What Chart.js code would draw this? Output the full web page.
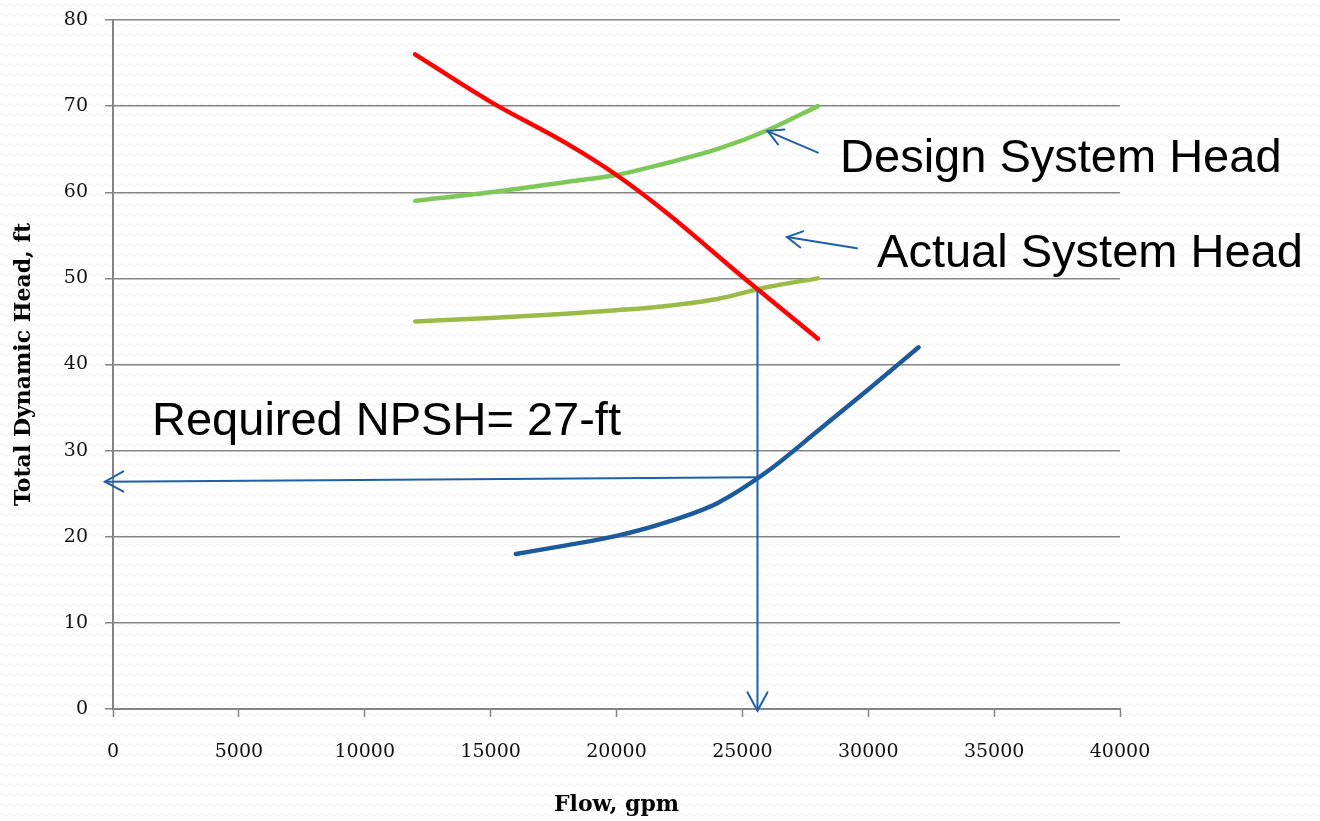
<!DOCTYPE html>
<html>
<head>
<meta charset="utf-8">
<script src="https://cdn.jsdelivr.net/npm/chart.js@4/dist/chart.umd.min.js"></script>
<style>
  html, body {
    margin: 0;
    padding: 0;
    background-color: #ffffff;
    background-image: url("data:image/svg+xml,%3Csvg xmlns='http://www.w3.org/2000/svg' width='8' height='10'%3E%3Cpath d='M0 5 Q2 2.5 4 5 T8 5' fill='none' stroke='%23f1f1f1' stroke-width='1'/%3E%3C/svg%3E");
  }
  canvas { display: block; }
</style>
</head>
<body>
<canvas id="pumpChart" width="1320" height="821"></canvas>
<script>
// pump curve vs. system curves

const pumpFlow = [12000, 15000, 18000, 20000, 22000, 25000, 28000];
const pumpHead = [76, 70.5, 65.7, 62, 57.6, 50.2, 43];

const designFlow = [12000, 15000, 18000, 20000, 22000, 24000, 26000, 28000];
const designHead = [59, 60, 61.2, 62, 63.4, 65, 67.2, 70];

const actualFlow = [12000, 15000, 18000, 20000, 22000, 24000, 26000, 28000];
const actualHead = [45, 45.4, 45.9, 46.3, 46.8, 47.6, 49.0, 50];

const npshFlow = [16000, 18000, 20000, 22000, 24000, 26000, 28000, 30000, 32000];
const npshHead = [18, 19, 20.1, 21.7, 23.9, 27.6, 32.3, 37.1, 42];

const xTicks = [0, 5000, 10000, 15000, 20000, 25000, 30000, 35000, 40000];
const yTicks = [0, 10, 20, 30, 40, 50, 60, 70, 80];

const opFlow = 25600;
const opHead = 48.5;
const npshReq = 27;

const toPoints = (xs, ys) => xs.map((x, i) => ({ x, y: ys[i] }));

const ARROW_BLUE = '#1f5fa6';

function drawArrow(ctx, x1, y1, x2, y2, head) {
    ctx.beginPath();
    ctx.moveTo(x1, y1);
    ctx.lineTo(x2, y2);
    ctx.stroke();
    const a = Math.atan2(y2 - y1, x2 - x1);
    ctx.beginPath();
    ctx.moveTo(x2 - head * Math.cos(a - 0.5), y2 - head * Math.sin(a - 0.5));
    ctx.lineTo(x2, y2);
    ctx.lineTo(x2 - head * Math.cos(a + 0.5), y2 - head * Math.sin(a + 0.5));
    ctx.stroke();
}

// arrows and call-out text, placed in data units
const annotations = {
    id: 'annotations',
    afterDraw(chart) {
        const { ctx, scales: { x, y } } = chart;
        const px = v => x.getPixelForValue(v);
        const py = v => y.getPixelForValue(v);

        ctx.save();
        ctx.strokeStyle = ARROW_BLUE;
        ctx.lineWidth = 2;
        ctx.lineCap = 'round';

        // down from the operating point to the flow axis
        drawArrow(ctx, px(opFlow), py(opHead), px(opFlow), py(-0.2), 21);
        // across from the NPSH curve to the head axis
        drawArrow(ctx, px(opFlow), py(26.9), px(-320), py(26.4), 21);
        // call-outs pointing at the system curves
        drawArrow(ctx, px(28000), py(64.6), px(26000), py(67.1), 17);
        drawArrow(ctx, px(29550), py(53.5), px(26770), py(54.8), 17);

        ctx.fillStyle = '#000000';
        ctx.font = '47px "Liberation Sans", Arial, sans-serif';
        ctx.textAlign = 'left';
        ctx.textBaseline = 'alphabetic';
        ctx.fillText('Design System Head', px(28880), py(62.35));
        ctx.fillText('Actual System Head', px(30350), py(51.3));
        ctx.fillText('Required NPSH= ' + npshReq + '-ft', px(1550), py(31.8));
        ctx.restore();
    }
};

const lineStyle = {
    pointRadius: 0,
    borderWidth: 4.5,
    borderCapStyle: 'round',
    borderJoinStyle: 'round',
    cubicInterpolationMode: 'monotone',
    fill: false
};

const tickFont = { family: '"DejaVu Serif", serif', size: 19 };
const titleFont = { family: '"DejaVu Serif", serif', size: 22, weight: 'bold' };

new Chart(document.getElementById('pumpChart'), {
    type: 'line',
    data: {
        datasets: [
            { label: 'Pump Head', data: toPoints(pumpFlow, pumpHead), borderColor: '#ff0000', ...lineStyle },
            { label: 'Design System Head', data: toPoints(designFlow, designHead), borderColor: '#7ec85a', ...lineStyle },
            { label: 'Actual System Head', data: toPoints(actualFlow, actualHead), borderColor: '#9bbb49', ...lineStyle },
            { label: 'Required NPSH', data: toPoints(npshFlow, npshHead), borderColor: '#1c5a9c', ...lineStyle }
        ]
    },
    options: {
        responsive: false,
        animation: false,
        layout: { padding: { top: 20, right: 200, bottom: 0, left: 0 } },
        plugins: {
            legend: { display: false },
            tooltip: { enabled: false }
        },
        scales: {
            x: {
                type: 'linear',
                min: 0,
                max: 40000,
                afterFit(scale) {
                    scale.height = 112;
                    scale.paddingLeft = 0;
                    scale.paddingRight = 0;
                },
                afterBuildTicks(scale) { scale.ticks = xTicks.map(value => ({ value })); },
                grid: {
                    drawOnChartArea: false,
                    drawTicks: true,
                    tickLength: 8,
                    tickWidth: 1.5,
                    tickColor: '#858585'
                },
                border: { color: '#858585', width: 2 },
                ticks: {
                    padding: 24,
                    color: '#111111',
                    font: tickFont,
                    callback: v => String(v)
                },
                title: {
                    display: true,
                    text: 'Flow, gpm',
                    color: '#000000',
                    padding: { top: 0, bottom: 3 },
                    font: titleFont
                }
            },
            y: {
                min: 0,
                max: 80,
                afterFit(scale) {
                    scale.width = 113;
                    scale.paddingTop = 0;
                    scale.paddingBottom = 0;
                },
                afterBuildTicks(scale) { scale.ticks = yTicks.map(value => ({ value })); },
                grid: {
                    color: '#858585',
                    lineWidth: 1.5,
                    drawTicks: true,
                    tickLength: 8
                },
                border: { color: '#858585', width: 2 },
                ticks: {
                    padding: 17,
                    color: '#111111',
                    font: tickFont,
                    callback: v => String(v)
                },
                title: {
                    display: true,
                    text: 'Total Dynamic Head, ft',
                    color: '#000000',
                    padding: { top: 11, bottom: 0 },
                    font: titleFont
                }
            }
        }
    },
    plugins: [annotations]
});
</script>
</body>
</html>
